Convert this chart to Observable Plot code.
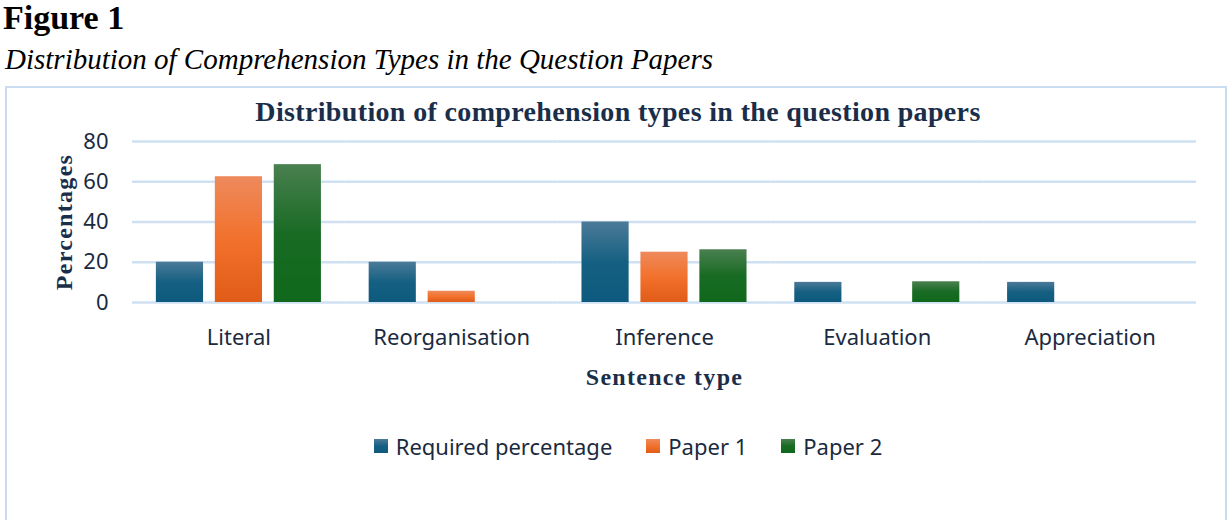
<!DOCTYPE html>
<html>
<head>
<meta charset="utf-8">
<script src="https://cdn.jsdelivr.net/npm/d3@7"></script>
<script src="https://cdn.jsdelivr.net/npm/@observablehq/plot@0.6"></script>
<style>
  html, body { margin: 0; padding: 0; background: #fff; width: 1230px; height: 520px; overflow: hidden; position: relative; }
  #fig { position: absolute; left: 3px; top: -1px; font-family: "Liberation Serif", "DejaVu Serif", serif; font-weight: bold; font-size: 34px; color: #000; }
  #sub { position: absolute; left: 5px; top: 43px; font-family: "Liberation Serif", "DejaVu Serif", serif; font-style: italic; font-size: 29px; color: #000; white-space: nowrap; }
  #box { position: absolute; left: 5px; top: 86px; width: 1218px; height: 460px; border: 2px solid #cadcf0; }
  #title { position: absolute; left: 0; width: 1236px; top: 96px; text-align: center; font-family: "Liberation Serif", "DejaVu Serif", serif; font-weight: bold; font-size: 28px; letter-spacing: 0.35px; color: #1a2e4a; white-space: nowrap; }
  #chart { position: absolute; left: 0; top: 110px; }
  #legend { position: absolute; left: 0; width: 1230px; top: 431px; display: flex; justify-content: center; font-family: "Noto Sans", "Open Sans", sans-serif; font-size: 22px; color: #1a2a40; padding-left: 26px; box-sizing: border-box; }
  .item { display: flex; align-items: center; margin: 0 17px; }
  .sw { width: 14px; height: 14px; margin-right: 8px; }
  g[aria-label="fx-axis label"] text, g[aria-label="y-axis label"] text { font-family: "Liberation Serif", "DejaVu Serif", serif; font-weight: bold; font-size: 24px; letter-spacing: 1.3px; fill: #1a2e4a; }
</style>
</head>
<body>
<div id="fig">Figure 1</div>
<div id="sub">Distribution of Comprehension Types in the Question Papers</div>
<div id="box"></div>
<div id="title">Distribution of comprehension types in the question papers</div>
<div id="chart"></div>
<div id="legend"></div>
<script>
const categories = ["Literal", "Reorganisation", "Inference", "Evaluation", "Appreciation"];
const series = ["Required percentage", "Paper 1", "Paper 2"];
const requiredPct = [20, 20, 40, 10, 10];
const paper1 = [62.5, 5.6, 25, 0, 0];
const paper2 = [68.5, 0, 26.2, 10.3, 0];
const yTicks = [0, 20, 40, 60, 80];

const gradients = [
  {id: "gBlue", top: "#4c7a98", mid: "#156082", bot: "#0d5a7e"},
  {id: "gOrange", top: "#ee8a5c", mid: "#f2712c", bot: "#e05c18"},
  {id: "gGreen", top: "#4a8050", mid: "#196b24", bot: "#0f681b"}
];

const valuesBySeries = [requiredPct, paper1, paper2];
const data = [];
categories.forEach((c, i) => {
  series.forEach((s, j) => {
    data.push({category: c, series: s, value: valuesBySeries[j][i]});
  });
});

const plot = Plot.plot({
  width: 1230,
  height: 285,
  marginLeft: 132,
  marginRight: 34,
  marginTop: 31,
  marginBottom: 93,
  style: {fontFamily: "'Noto Sans', 'Open Sans', sans-serif", fontSize: "22px", color: "#1a2a40", background: "transparent"},
  fx: {domain: categories, padding: 0, round: false, label: "Sentence type"},
  x: {domain: series, paddingInner: 0.2, paddingOuter: 0.405, round: false, axis: null},
  y: {domain: [0, 80], label: "Percentages"},
  color: {domain: series, range: gradients.map(g => `url(#${g.id})`)},
  marks: [
    Plot.gridY(yTicks, {stroke: "#cfe0f2", strokeOpacity: 1, strokeWidth: 2.5}),
    Plot.axisY(yTicks, {tickSize: 0, tickPadding: 24, label: "Percentages", labelAnchor: "center", labelArrow: "none", labelOffset: 78}),
    Plot.axisFx({anchor: "bottom", tickSize: 0, tickPadding: 27, label: "Sentence type", labelAnchor: "center", labelArrow: "none", labelOffset: 82}),
    Plot.barY(data, {fx: "category", x: "series", y: "value", fill: "series"})
  ]
});

const svg = d3.select(plot);
const defs = svg.insert("defs", ":first-child");
gradients.forEach(g => {
  const lg = defs.append("linearGradient").attr("id", g.id).attr("x1", 0).attr("y1", 0).attr("x2", 0).attr("y2", 1);
  lg.append("stop").attr("offset", "0%").attr("stop-color", g.top);
  lg.append("stop").attr("offset", "50%").attr("stop-color", g.mid);
  lg.append("stop").attr("offset", "100%").attr("stop-color", g.bot);
});
document.getElementById("chart").appendChild(plot);

const legend = document.getElementById("legend");
series.forEach((s, j) => {
  const item = document.createElement("div");
  item.className = "item";
  const sw = document.createElement("div");
  sw.className = "sw";
  sw.style.background = `linear-gradient(${gradients[j].top}, ${gradients[j].mid} 50%, ${gradients[j].bot})`;
  const t = document.createElement("span");
  t.textContent = s;
  item.appendChild(sw);
  item.appendChild(t);
  legend.appendChild(item);
});
</script>
</body>
</html>
